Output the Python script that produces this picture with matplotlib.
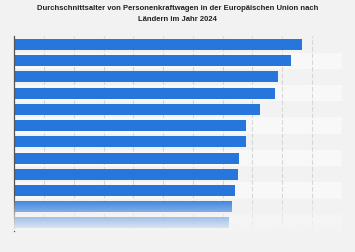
import matplotlib
matplotlib.use("Agg")
import matplotlib.pyplot as plt
import numpy as np

title = "Durchschnittsalter von Personenkraftwagen in der Europäischen Union nach\nLändern im Jahr 2024"
# Country labels are hidden in the reference; placeholders keep the order
countries = ["Land 1", "Land 2", "Land 3", "Land 4", "Land 5", "Land 6",
             "Land 7", "Land 8", "Land 9", "Land 10", "Land 11", "Land 12"]
ages = [19.3, 18.6, 17.7, 17.5, 16.5, 15.6, 15.6, 15.1, 15.0, 14.8, 14.6, 14.4]
x_ticks = [0, 2, 4, 6, 8, 10, 12, 14, 16, 18, 20, 22]

bg = "#f2f2f2"
fig = plt.figure(figsize=(3.55, 2.53), dpi=100, facecolor=bg)
ax = fig.add_axes([14.3 / 355, 1 - 232 / 253, (341.7 - 14.3) / 355, (232 - 37.4) / 253])
ax.set_facecolor(bg)

n = len(countries)
ypos = np.arange(n)
for i in ypos:
    if i % 2 == 1:
        ax.axhspan(i - 0.5, i + 0.5, color="#f8f8f8", zorder=0, lw=0)

for xv in x_ticks[1:]:
    ax.axvline(xv, color="#d6d6d6", lw=0.8, ls=(0, (4, 2)), zorder=1)

ax.barh(ypos, ages, height=0.68, color="#2776db", zorder=2)

# fade overlay at the bottom
grad = np.zeros((200, 2, 4))
grad[..., :3] = np.array([0xf4, 0xf4, 0xf4]) / 255
t = np.linspace(0, 1, 200)
grad[..., 3] = (0.95 * t ** 0.9)[:, None]
ax.imshow(grad, extent=(x_ticks[0] - 0.3, x_ticks[-1], n - 0.5, 9.45), aspect="auto",
          zorder=5, interpolation="bilinear", clip_on=False)

ax.set_xlim(x_ticks[0], x_ticks[-1])
ax.set_ylim(n - 0.5, -0.5)
ax.set_xticks(x_ticks)
ax.tick_params(left=False, bottom=False, labelleft=False, labelbottom=False)
for s in ["top", "right", "bottom"]:
    ax.spines[s].set_visible(False)
ax.spines["left"].set_color("#555555")
ax.spines["left"].set_linewidth(0.9)
ax.spines["left"].set_zorder(4)

fig.text(0.5, 1 - 14 / 253, title, ha="center", va="center", fontsize=5.5,
         fontweight="bold", family=["Liberation Sans", "DejaVu Sans"],
         color="#222222", linespacing=1.9)

fig.savefig("out.png", dpi=100, facecolor=bg)
